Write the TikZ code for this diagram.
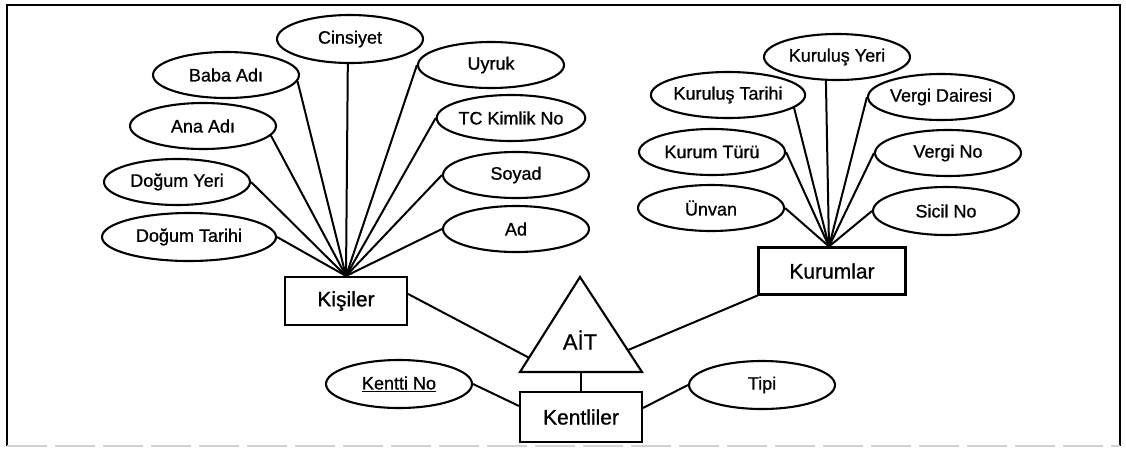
\documentclass[tikz,border=0pt]{standalone}
\usepackage{fontspec}
\setmainfont{Liberation Sans}[FakeBold=1.2]
\usetikzlibrary{shapes.geometric,calc}
\begin{document}
\begin{tikzpicture}[x=1pt,y=-1pt,
  attr/.style={ellipse,draw,line width=2.1pt,inner sep=0pt,minimum width=146pt,minimum height=46pt,font=\fontsize{18}{20}\selectfont\addfontfeature{FakeBold=0.9}},
  ent/.style={rectangle,draw,line width=2.1pt,inner sep=0pt,font=\fontsize{21}{24}\selectfont\addfontfeature{FakeBold=0.9}},
  conn/.style={line width=2pt},
  frame/.style={line width=2pt}]
\useasboundingbox (0,0) rectangle (1126,451);
% frame
\draw[frame] (7,446) -- (7,5) -- (1120,5) -- (1120,446);
\draw[gray!35,line width=1.5pt,dash pattern=on 40pt off 8pt] (7,446) -- (1120,446);

% Kisiler attributes
\node[attr,minimum height=48pt] (cins) at (350,39) {Cinsiyet};
\node[attr] (baba) at (226,75) {Baba Adı};
\node[attr] (ana) at (203,126) {Ana Adı};
\node[attr] (dyeri) at (177,182) {Doğum Yeri};
\node[attr,minimum width=174pt,minimum height=48pt] (dtar) at (189,237) {Doğum Tarihi};
\node[attr] (uyruk) at (491,65) {Uyruk};
\node[attr] (tc) at (511,118) {TC Kimlik No};
\node[attr] (soyad) at (516,175) {Soyad};
\node[attr] (ad) at (516,229) {Ad};

% Kurumlar attributes
\node[attr] (kyeri) at (837,57) {Kuruluş Yeri};
\node[attr,minimum width=148pt] (ktar) at (728,95) {Kuruluş Tarihi};
\node[attr] (vd) at (941,97) {Vergi Dairesi};
\node[attr] (ktur) at (712,152) {Kurum Türü};
\node[attr] (vno) at (948,153) {Vergi No};
\node[attr] (unvan) at (711,208) {Ünvan};
\node[attr,minimum height=48pt] (sicil) at (946,211) {Sicil No};

% entities
\node[ent,minimum width=122pt,minimum height=48pt] (kis) at (346,301) {Kişiler};
\node[ent,minimum width=147pt,minimum height=47pt] (kur) at (832,271) {Kurumlar};
\node[ent,minimum width=122pt,minimum height=50pt] (ken) at (581,417) {Kentliler};

% Kentliler attributes
\node[attr,minimum height=48pt] (kno) at (399,384) {\underline{Kentti No}};
\node[attr,minimum height=48pt] (tipi) at (762,385) {Tipi};

% relationship triangle
\coordinate (ta) at (580,277);
\coordinate (tbl) at (520,372);
\coordinate (tbr) at (642,372);
\draw[conn,line width=2.1pt,line join=miter] (ta) -- (tbl) -- (tbr) -- cycle;
\node[font=\fontsize{22}{24}\selectfont\addfontfeature{FakeBold=0.9},inner sep=0pt] (ait) at (580,340) {AİT};
\coordinate (tL) at ($(ta)!0.85!(tbl)$);
\coordinate (tR) at ($(ta)!0.77!(tbr)$);
\coordinate (tB) at ($(tbl)!0.5!(tbr)$);

% Kisiler connectors
\draw[conn] (dtar.east) -- (kis.north);
\draw[conn] (dyeri.east) -- (kis.north);
\draw[conn] (ana.-8) -- (kis.north);
\draw[conn] (baba.-5) -- (kis.north);
\draw[conn] (cins.-95) -- (kis.north);
\draw[conn] (uyruk.west) -- (kis.north);
\draw[conn] (tc.west) -- (kis.north);
\draw[conn] (soyad.west) -- (kis.north);
\draw[conn] (ad.west) -- (kis.north);

% Kurumlar connectors
\coordinate (kurtop) at ($(kur.north)+(-3,0)$);
\draw[conn] (unvan.east) -- (kurtop);
\draw[conn] (ktur.east) -- (kurtop);
\draw[conn] (ktar.-11) -- (kurtop);
\draw[conn] (kyeri.-115) -- (kurtop);
\draw[conn] (vd.west) -- (kurtop);
\draw[conn] (vno.west) -- (kurtop);
\draw[conn] (sicil.west) -- (kurtop);

% relationship connectors
\draw[conn] ($(kis.north east)+(0,18)$) -- (tL);
\draw[conn] (kur.south west) -- (tR);
\draw[conn] (tB) -- (ken.north);
\draw[conn] (kno.east) -- ($(ken.north west)+(0,15)$);
\draw[conn] (tipi.west) -- ($(ken.north east)+(0,17)$);
\end{tikzpicture}
\end{document}
